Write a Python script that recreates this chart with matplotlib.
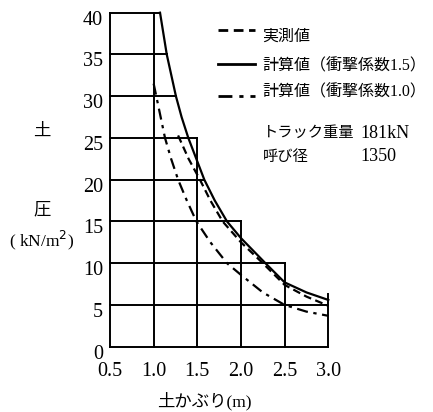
import matplotlib
matplotlib.use('Agg')
import matplotlib.pyplot as plt
import matplotlib.transforms as mtransforms

# measured / calculated earth pressure
x_meas = [1.28, 1.40, 1.53, 1.65, 1.79, 2.0, 2.25, 2.5, 2.75, 3.0]
y_meas = [25.3, 22.5, 20.0, 17.5, 15.0, 12.5, 10.0, 7.4, 6.0, 4.9]

x_calc15 = [1.073, 1.15, 1.255, 1.32, 1.397, 1.58, 1.70, 1.84, 2.0, 2.28, 2.5, 2.75, 3.0]
y_calc15 = [40.0, 35.0, 30.0, 27.5, 25.0, 20.0, 17.5, 15.0, 13.0, 10.0, 7.7, 6.5, 5.6]

x_calc10 = [1.0, 1.03, 1.08, 1.13, 1.2, 1.28, 1.38, 1.49, 1.65, 1.84, 2.0, 2.25, 2.5, 2.75, 3.0]
y_calc10 = [31.5, 30.0, 27.5, 25.0, 22.5, 20.0, 17.5, 15.0, 12.5, 10.0, 8.6, 6.5, 5.0, 4.2, 3.7]

# staircase grid
h_levels = [5, 10, 15, 20, 25, 30, 35, 40]
h_ends = [3.0, 2.5, 2.0, 1.58, 1.5, 1.255, 1.15, 1.073]
v_levels = [1.0, 1.5, 2.0, 2.5, 3.0]
v_tops = [40, 25, 15, 10, 6.3]

xticks = [0.5, 1.0, 1.5, 2.0, 2.5, 3.0]
yticks = [0, 5, 10, 15, 20, 25, 30, 35, 40]

labels = ['実測値', '計算値（衝撃係数1.5）', '計算値（衝撃係数1.0）']

W, H = 433, 412
fam = ['Liberation Serif', 'Noto Sans CJK JP']
plt.rcParams['font.family'] = fam

fig = plt.figure(figsize=(W / 100, H / 100), dpi=100)
ax = fig.add_axes([110 / W, 1 - 346.7 / H, 218.3 / W, 334 / H])

lw = 1.4
for y, xe in zip(h_levels, h_ends):
    ax.plot([0.5, xe], [y, y], color='black', lw=lw, clip_on=False)
for x, yt in zip(v_levels, v_tops):
    ax.plot([x, x], [0, yt], color='black', lw=lw, clip_on=False)

ax.plot(x_meas, y_meas, color='black', lw=1.6, ls=(0, (3.5, 2)), clip_on=False)
ax.plot(x_calc15, y_calc15, color='black', lw=1.6, ls='-', clip_on=False)
ax.plot(x_calc10, y_calc10, color='black', lw=1.6, ls=(0, (5, 2.5, 1.5, 2.5)), clip_on=False)

ax.set_xlim(0.5, 3.0)
ax.set_ylim(0, 40)
ax.spines['top'].set_visible(False)
ax.spines['right'].set_visible(False)
ax.spines['left'].set_linewidth(lw)
ax.spines['bottom'].set_linewidth(lw)
ax.set_xticks(xticks)
ax.set_xticklabels(['%.1f' % v for v in xticks])
ax.set_yticks(yticks)
ax.tick_params(length=0, labelsize=14.5)
ax.tick_params(axis='x', pad=11)
ax.tick_params(axis='y', pad=5)
off = mtransforms.ScaledTranslation(0, -5 / 100, fig.dpi_scale_trans)
for t in ax.get_yticklabels():
    t.set_transform(t.get_transform() + off)

# legend drawn by hand
leg_y = [30, 64, 96]
leg_ls = [(0, (3.5, 2)), '-', (0, (5, 2.5, 1.5, 2.5))]
txt_y = [37, 66, 92]
for ly, ls, ty, lab in zip(leg_y, leg_ls, txt_y, labels):
    fig.add_artist(plt.Line2D([218 / W, 255 / W], [1 - ly / H, 1 - ly / H],
                              color='black', lw=2, ls=ls))
    fig.text(262 / W, 1 - ty / H, lab, fontsize=11.5, va='center', ha='left')

fig.text(263 / W, 1 - 133 / H, 'トラック重量', fontsize=11, va='center')
fig.text(360 / W, 1 - 133 / H, '181kN', fontsize=13, va='center')
fig.text(263 / W, 1 - 157 / H, '呼び径', fontsize=11, va='center')
fig.text(360 / W, 1 - 157 / H, '1350', fontsize=13, va='center')

fig.text(42 / W, 1 - 132 / H, '土', fontsize=12.5, ha='center', va='center')
fig.text(42 / W, 1 - 210 / H, '圧', fontsize=12.5, ha='center', va='center')
fig.text(42 / W, 1 - 240 / H, '( kN/m$^2$)', fontsize=12.5, ha='center', va='center')

fig.text(204 / W, 1 - 401 / H, '土かぶり(m)', fontsize=12.5, ha='center', va='center')

fig.savefig('out.png', dpi=100)
